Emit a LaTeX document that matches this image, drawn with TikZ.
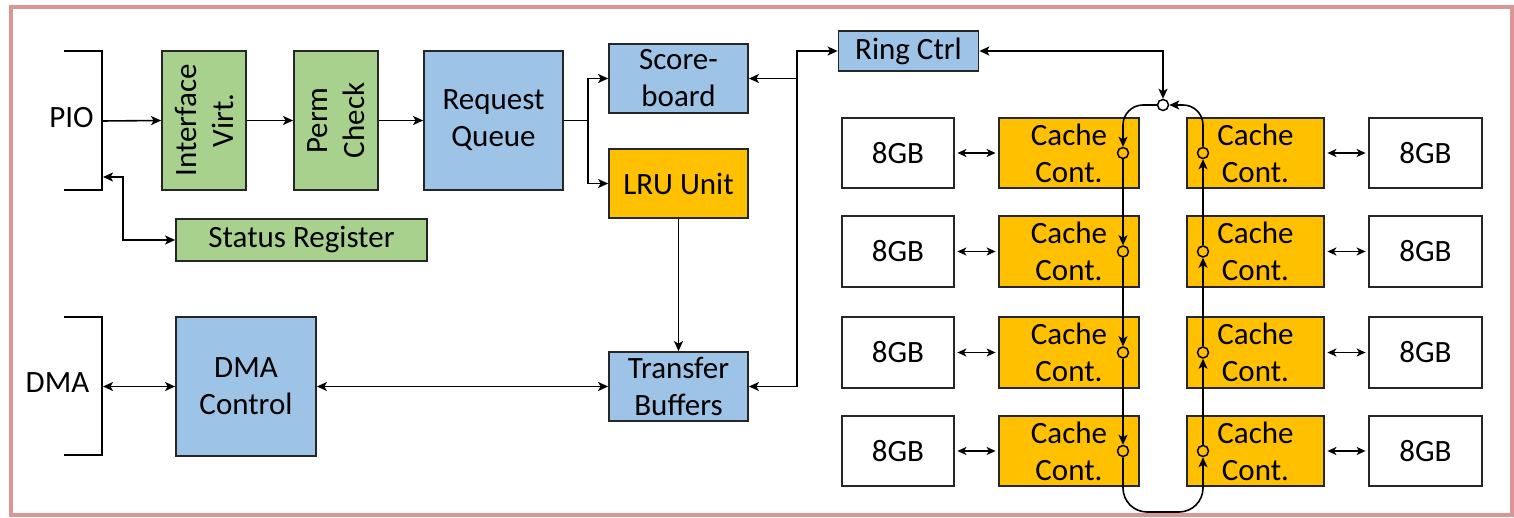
\documentclass[tikz,border=0pt]{standalone}
\usepackage{fontspec}
\setmainfont{Carlito}
\usetikzlibrary{arrows.meta}
\definecolor{frm}{HTML}{DA9694}
\definecolor{gbox}{HTML}{A9D18E}
\definecolor{bbox}{HTML}{9DC3E6}
\definecolor{obox}{HTML}{FFC000}
\definecolor{edge}{HTML}{262626}
\tikzset{
  box/.style={draw=edge, line width=1.8pt, inner sep=0pt, align=center,
    font=\fontsize{31}{37}\selectfont},
  lbl/.style={inner sep=0pt, align=center, font=\fontsize{31}{37}\selectfont},
  conn/.style={line width=1.6pt, black},
  arr/.style={conn, -{Stealth[length=10pt,width=9pt,inset=2.5pt]}},
  arrb/.style={conn, {Stealth[length=10pt,width=9pt,inset=2.5pt]}-{Stealth[length=10pt,width=9pt,inset=2.5pt]}},
  arrs/.style={conn, {Stealth[length=9pt,width=8pt,inset=2.5pt]}-{Stealth[length=9pt,width=8pt,inset=2.5pt]}, shorten >=2.5pt, shorten <=2.5pt},
  bracket/.style={line width=1.8pt, black},
  ring/.style={circle, draw=black, line width=1.5pt, minimum size=11pt, inner sep=0pt},
}
\begin{document}
\begin{tikzpicture}[x=1pt,y=-1pt]
\useasboundingbox (0,0) rectangle (1514,518);
\draw[frm, line width=4pt] (10.5,7) rectangle (1511.5,515);

% PIO / DMA brackets
\draw[bracket] (64,51) -- (102,51) -- (102,190) -- (64,190);
\node[lbl] (pio) at (71.5,118) {PIO};
\draw[bracket] (64,317) -- (102,317) -- (102,455) -- (64,455);
\node[lbl] (dmal) at (57.5,383) {DMA};
\coordinate (pioin) at (102,121);
\coordinate (piostat) at (103,177);
\coordinate (dmain) at (103,386.5);

% left boxes
\node[box, fill=gbox, minimum width=84pt, minimum height=139pt] (iv) at (204,120.5) {};
\node[lbl, rotate=90] (ivt) at (iv.center) {Interface\\Virt.};
\node[box, fill=gbox, minimum width=84pt, minimum height=139pt] (pc) at (336,120.5) {};
\node[lbl, rotate=90] (pct) at (pc.center) {Perm\\Check};
\node[box, fill=bbox, minimum width=139pt, minimum height=139pt] (rq) at (493.5,120.5) {Request\\Queue};
\node[box, fill=bbox, minimum width=139pt, minimum height=69pt] (sb) at (678.5,78.5) {Score-\\board};
\node[box, fill=obox, minimum width=139pt, minimum height=69pt] (lru) at (678.5,183.5) {LRU Unit};
\node[box, fill=gbox, minimum width=251pt, minimum height=42pt] (sr) at (301.5,240) {Status Register};
\node[box, fill=bbox, minimum width=140pt, minimum height=139pt] (dma) at (246,386.5) {DMA\\Control};
\node[box, fill=bbox, minimum width=139pt, minimum height=69pt] (tb) at (678.5,386.5) {Transfer\\Buffers};
\node[box, fill=bbox, minimum width=140pt, minimum height=40pt] (rc) at (908.5,51) {Ring Ctrl};

% left connectors
\draw[arr] (pioin) -- (iv.west);
\draw[arr] (iv.east) -- (pc.west);
\draw[arr] (pc.east) -- (rq.west);
\coordinate (rj) at (588,120.5);
\draw[conn] (rq.east) -- (rj);
\draw[arr] (rj) |- (sb.west);
\draw[arr] (rj) |- (lru.west);
\coordinate (sj) at (123,240);
\draw[arrb] (piostat) -| (sj) -- (sr.west);
\draw[arrb] (dmain) -- (dma.west);
\draw[arrb] (dma.east) -- (tb.west);
\draw[arr] (lru.south) -- (tb.north);
\coordinate (tt) at (797,51);
\coordinate (tj) at (797,78.5);
\draw[arrb] (tb.east) -| (tt) -- (rc.west);
\draw[arr] (tj) -- (sb.east);

% memory and cache controllers
\foreach \i/\cy/\h in {1/153/70, 2/251.5/71, 3/352.5/71, 4/451/70}{
  \node[box, fill=white, minimum width=112pt, minimum height=\h pt] (ml\i) at (898,\cy) {8GB};
  \node[box, fill=obox, minimum width=140pt, minimum height=\h pt] (cl\i) at (1069,\cy) {Cache\\Cont.};
  \node[box, fill=obox, minimum width=137pt, minimum height=\h pt] (cr\i) at (1255.5,\cy) {Cache\\Cont.};
  \node[box, fill=white, minimum width=113pt, minimum height=\h pt] (mr\i) at (1425.5,\cy) {8GB};
  \draw[arrs] (ml\i.east) -- (cl\i.west);
  \draw[arrs] (cr\i.east) -- (mr\i.west);
}

% ring
\node[ring, fill=white] (c0) at (1163,105) {};
\foreach \i/\cy in {1/153, 2/251.5, 3/352.5, 4/451}{
  \node[ring, fill=obox] (pl\i) at (1123,\cy) {};
  \node[ring, fill=obox] (pr\i) at (1203,\cy) {};
}
\coordinate (bl) at (1123,512);
\coordinate (br) at (1203,512);
\draw[arr, rounded corners=20pt] (c0.west) -| (pl1.north);
\draw[arr] (pl1.south) -- (pl2.north);
\draw[arr] (pl2.south) -- (pl3.north);
\draw[arr] (pl3.south) -- (pl4.north);
\draw[arr, rounded corners=24pt] (pl4.south) -- (bl) -- (br) -- (pr4.south);
\draw[arr] (pr4.north) -- (pr3.south);
\draw[arr] (pr3.north) -- (pr2.south);
\draw[arr] (pr2.north) -- (pr1.south);
\draw[arr, rounded corners=20pt] (pr1.north) |- (c0.east);
\draw[arrb] (rc.east) -| (c0.north);
\end{tikzpicture}
\end{document}
